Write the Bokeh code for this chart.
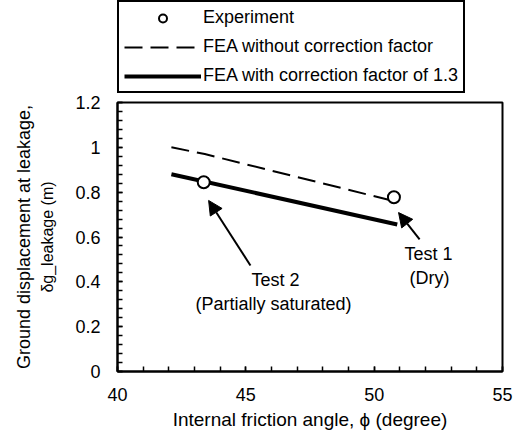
from bokeh.plotting import figure
from bokeh.layouts import column
from bokeh.models import (Legend, LegendItem, Label, Arrow, NormalHead,
                          FixedTicker, Title)
from bokeh.embed import file_html
from bokeh.resources import INLINE

# ---- data ----
exp_phi = [50.77, 43.36]
exp_disp = [0.777, 0.844]
fea_nocorr_phi = [42.1, 43.4, 50.6]
fea_nocorr_disp = [1.0, 0.97, 0.765]
fea_corr_phi = [42.1, 50.9]
fea_corr_disp = [0.88, 0.656]

x_ticks = [40, 45, 50, 55]
x_minor = list(range(40, 56))
y_ticks = [0, 0.2, 0.4, 0.6, 0.8, 1.0, 1.2]
y_minor = [round(i * 0.04, 2) for i in range(31)]

series_labels = ["Experiment", "FEA without correction factor",
                 "FEA with correction factor of 1.3"]

# annotation arrows: (tail x, tail y, head x, head y) in data units
arrow_test2 = (45.18, 0.473, 43.55, 0.763)
arrow_test1 = (51.77, 0.589, 50.95, 0.709)

FONT = "Liberation Sans"
W = 517

# ---------- main plot ----------
p = figure(width=W, height=343, output_backend="svg", toolbar_location=None,
           x_range=(40, 55), y_range=(0, 1.2),
           min_border_left=117, min_border_right=15,
           min_border_top=8, min_border_bottom=66)
p.background_fill_color = "white"
p.border_fill_color = "white"
p.xgrid.visible = False
p.ygrid.visible = False
p.outline_line_color = "black"
p.outline_line_width = 2
p.outline_line_alpha = 1.0

for ax in (p.xaxis[0], p.yaxis[0]):
    ax.axis_line_width = 2
    ax.axis_line_color = "black"
    ax.major_tick_in = 5
    ax.major_tick_out = 0
    ax.minor_tick_in = 5
    ax.minor_tick_out = 0
    ax.major_tick_line_width = 1.5
    ax.minor_tick_line_width = 1.5
    ax.major_label_text_font = FONT
    ax.major_label_text_font_size = "18px"
    ax.major_label_text_color = "black"
    ax.axis_label_text_font = FONT
    ax.axis_label_text_font_style = "normal"
    ax.axis_label_text_color = "black"

p.xaxis.ticker = FixedTicker(ticks=x_ticks, minor_ticks=x_minor)
p.yaxis.ticker = FixedTicker(ticks=y_ticks, minor_ticks=y_minor)
p.xaxis.major_label_standoff = 16
p.yaxis.major_label_standoff = 17
p.yaxis.major_label_overrides = {0: "0", 0.2: "0.2", 0.4: "0.4", 0.6: "0.6",
                                 0.8: "0.8", 1.0: "1", 1.2: "1.2"}

p.xaxis.axis_label = "Internal friction angle, \u03d5 (degree)"
p.xaxis.axis_label_text_font_size = "19px"
p.xaxis.axis_label_standoff = 5

p.yaxis.axis_label = "\u03b4g_leakage (m)"
p.yaxis.axis_label_text_font_size = "16px"
p.yaxis.axis_label_standoff = 16

p.add_layout(Title(text="Ground displacement at leakage,", align="center",
                   text_font=FONT, text_font_size="18px", text_font_style="normal",
                   text_color="black", standoff=5), "left")

p.line(fea_nocorr_phi, fea_nocorr_disp, line_color="black",
       line_width=2, line_dash="18 8")
p.line(fea_corr_phi, fea_corr_disp, line_color="black", line_width=4)
p.scatter(exp_phi, exp_disp, marker="circle", size=12,
          line_color="black", line_width=2, fill_color="white")

for (x0, y0, x1, y1) in (arrow_test2, arrow_test1):
    p.add_layout(Arrow(end=NormalHead(size=14, fill_color="black", line_color="black"),
                       x_start=x0, y_start=y0, x_end=x1, y_end=y1,
                       line_color="black", line_width=2))

for (tx, ty, t) in ((46.16, 0.406, "Test 2"), (46.08, 0.303, "(Partially saturated)"),
                    (52.12, 0.526, "Test 1"), (52.16, 0.415, "(Dry)")):
    p.add_layout(Label(x=tx, y=ty, text=t, text_align="center", text_baseline="middle",
                       text_font=FONT, text_font_size="18px", text_color="black"))

# ---------- legend strip above the plot ----------
# Same series, drawn in a strip whose ranges keep them out of view; only the
# legend of this strip is visible.
lg = figure(width=W, height=94, output_backend="svg", toolbar_location=None,
            x_range=(0, 1), y_range=(0, 1), x_axis_type=None, y_axis_type=None,
            min_border_left=0, min_border_right=0, min_border_top=0,
            min_border_bottom=0)
lg.xgrid.visible = False
lg.ygrid.visible = False
lg.outline_line_color = None
lg.background_fill_color = "white"
lg.border_fill_color = "white"

g_exp = lg.scatter(exp_phi, exp_disp, marker="circle", size=12, line_color="black",
                   line_width=2, fill_color="white")
g_dash = lg.line(fea_nocorr_phi, fea_nocorr_disp, line_color="black", line_width=2,
                 line_dash="18 8")
g_solid = lg.line(fea_corr_phi, fea_corr_disp, line_color="black", line_width=4)

legend = Legend(items=[
    LegendItem(label=series_labels[0], renderers=[g_exp]),
    LegendItem(label=series_labels[1], renderers=[g_dash]),
    LegendItem(label=series_labels[2], renderers=[g_solid]),
], location=(0, 1))
legend.label_text_font = FONT
legend.label_text_font_size = "18px"
legend.label_text_color = "black"
legend.glyph_width = 77
legend.glyph_height = 20
legend.label_height = 20
legend.label_standoff = 2
legend.spacing = 8
legend.padding = 5
legend.margin = 0
legend.border_line_color = "black"
legend.border_line_alpha = 1.0
legend.border_line_width = 2
legend.background_fill_color = "white"
legend.background_fill_alpha = 1
lg.add_layout(legend)

layout = column(lg, p, spacing=0)
open("out.html", "w").write(file_html(layout, INLINE))
